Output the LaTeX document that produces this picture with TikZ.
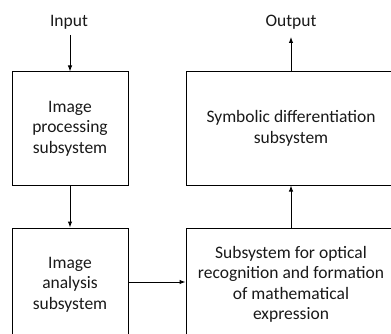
\documentclass[tikz,border=0pt]{standalone}
\usepackage{fontspec}
\setmainfont{Carlito}
\usetikzlibrary{arrows.meta,positioning}

\tikzset{
  block/.style={draw=black, line width=1pt, align=center, inner sep=0pt,
    font=\fontsize{17.5}{20.5}\selectfont, text=black!90},
  link/.style={line width=1pt, -{Latex[length=6pt,width=4.5pt]}},
  label/.style={font=\fontsize{17.5}{20}\selectfont, text=black!90}
}

\begin{document}
\begin{tikzpicture}[x=1pt, y=-1pt]
\useasboundingbox (0,0) rectangle (391,334);
\clip (0,0) rectangle (391,334);

% blocks
\node[block, minimum width=116pt, minimum height=113pt] (proc) at (70,128.5)
  {Image\\processing\\subsystem};
\node[block, minimum width=116pt, minimum height=113pt] (anal) at (70,284.5)
  {Image\\analysis\\subsystem};
\node[block, minimum width=210pt, minimum height=113pt] (symb) at (291,128.5)
  {Symbolic differentiation\\subsystem};
\node[block, minimum width=210pt, minimum height=113pt] (ocr) at (291,284.5)
  {Subsystem for optical\\recognition and formation\\of mathematical\\expression};

% input and output
\node[label] (in) at (69,22) {Input};
\node[label] (out) at (291,22) {Output};
\coordinate (inend) at (70,35);
\coordinate (outend) at (291,37);

% arrows
\draw[link] (inend) -- (proc.north);
\draw[link] (proc.south) -- (anal.north);
\draw[link] (anal.east |- 0,282) -- (ocr.west |- 0,282);
\draw[link] (ocr.north) -- (symb.south);
\draw[link] (symb.north) -- (outend);

\end{tikzpicture}
\end{document}
